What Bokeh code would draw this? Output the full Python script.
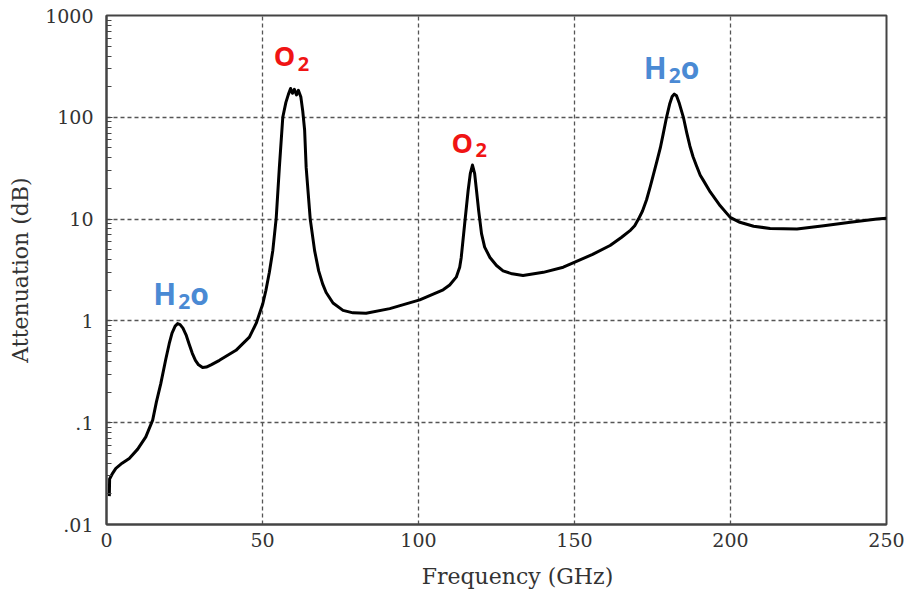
from bokeh.plotting import figure
from bokeh.models import Range1d, FixedTicker, Label
from bokeh.embed import file_html
from bokeh.resources import INLINE

# ---- data ----
freq_ghz = [0.9, 1.0, 2.0, 3.0, 5.0, 7.3, 10.0, 12.6, 14.8, 16.0, 17.4, 19.0, 20.1, 21.0,
            22.0, 22.8, 23.6, 24.5, 25.5, 26.5, 27.5, 28.5, 29.5, 30.8, 32.0, 33.5, 36.2,
            41.5, 45.8, 48.0, 50.1, 51.1, 52.2, 53.3, 54.4, 55.4, 56.5, 57.5, 58.3, 59.0,
            59.6, 60.2, 60.9, 61.5, 62.3, 62.9, 63.5, 64.0, 65.3, 66.7, 68.0, 69.3, 70.4,
            72.6, 75.8, 79.0, 83.2, 90.8, 100.4, 107.9, 110.0, 112.1, 113.2, 113.7, 114.8,
            115.9, 116.6, 117.3, 118.0, 118.6, 119.3, 120.2, 121.2, 122.9, 125.0, 127.1,
            130.0, 133.5, 140.0, 146.4, 150.1, 155.8, 161.4, 165.0, 168.0, 169.3, 170.5,
            171.8, 173.1, 174.3, 175.5, 176.4, 177.5, 178.4, 179.5, 180.5, 181.3, 182.0,
            182.7, 183.5, 184.9, 186.0, 187.0, 188.0, 189.0, 190.3, 191.3, 193.5, 196.7,
            199.9, 203.0, 207.4, 212.7, 221.3, 229.9, 238.4, 247.0, 250.0]
atten_db = [0.019, 0.028, 0.032, 0.0356, 0.040, 0.0446, 0.055, 0.0726, 0.106, 0.16, 0.242,
            0.42, 0.597, 0.76, 0.89, 0.94, 0.92, 0.85, 0.73, 0.59, 0.48, 0.41, 0.37, 0.348,
            0.352, 0.37, 0.41, 0.514, 0.693, 0.95, 1.475, 2.0, 3.0, 4.9, 10.3, 32, 100, 140,
            168, 192, 172, 188, 166, 184, 158, 115, 75, 32, 10, 4.9, 3.1, 2.3, 1.9, 1.5,
            1.27, 1.2, 1.19, 1.32, 1.61, 2.02, 2.25, 2.69, 3.37, 4.2, 9.0, 19, 28, 34, 28,
            19, 12, 7.2, 5.3, 4.2, 3.5, 3.1, 2.9, 2.79, 3.0, 3.37, 3.77, 4.5, 5.5, 6.6, 7.8,
            8.6, 10.0, 12.0, 15.5, 21, 29, 37, 50, 68, 100, 135, 160, 169, 163, 140, 100,
            70, 52, 41, 34, 27, 24, 18.5, 13.5, 10.4, 9.3, 8.5, 8.1, 8.0, 8.6, 9.3,
            10.0, 10.2]

x_ticks = [0, 50, 100, 150, 200, 250]
y_ticks = [0.01, 0.1, 1, 10, 100, 1000]
y_tick_labels = [".01", ".1", "1", "10", "100", "1000"]
y_minor = [m * 10.0 ** k for k in range(-2, 3) for m in range(2, 10)]

x_title = "Frequency (GHz)"
y_title = "Attenuation (dB)"

SERIF = "DejaVu Serif"
SANS = "Open Sans"
RED = "#F01414"
BLUE = "#4A8AD4"
GRID = "#555555"
AX = "#444444"
TXT = "#333333"

p = figure(width=907, height=597, x_range=Range1d(0, 250), y_range=Range1d(0.01, 1000),
           y_axis_type="log", output_backend="svg", toolbar_location=None,
           min_border_left=106, min_border_right=21, min_border_top=15, min_border_bottom=73)

p.line(freq_ghz, atten_db, line_color="black", line_width=3, line_join="round")

p.xaxis.ticker = FixedTicker(ticks=x_ticks)
p.yaxis.ticker = FixedTicker(ticks=y_ticks, minor_ticks=y_minor)
p.yaxis.major_label_overrides = {t: s for t, s in zip(y_ticks, y_tick_labels)}

for ax in (p.xaxis, p.yaxis):
    ax.axis_line_color = AX
    ax.axis_line_width = 2
    ax.major_label_text_font = SERIF
    ax.major_label_text_font_size = "19px"
    ax.major_label_text_color = TXT
    ax.major_tick_line_color = AX
    ax.minor_tick_line_color = AX
    ax.axis_label_text_font = SERIF
    ax.axis_label_text_font_size = "22px"
    ax.axis_label_text_font_style = "normal"
    ax.axis_label_text_color = TXT

# the reference title sits a little right of the frame centre
p.xaxis.axis_label = "\u00a0" * 6 + x_title
p.yaxis.axis_label = y_title

p.xaxis.major_tick_in = 0
p.xaxis.major_tick_out = 0
p.xaxis.minor_tick_in = 0
p.xaxis.minor_tick_out = 0
p.xaxis.major_label_standoff = 8
p.xaxis.axis_label_standoff = 14
p.yaxis.major_tick_in = 6
p.yaxis.major_tick_out = 0
p.yaxis.minor_tick_in = 5
p.yaxis.minor_tick_out = 0
p.yaxis.major_label_standoff = 13
p.yaxis.axis_label_standoff = 9

p.outline_line_color = AX
p.outline_line_width = 2
p.outline_line_alpha = 1

for g in (p.xgrid, p.ygrid):
    g.grid_line_color = GRID
    g.grid_line_dash = "4 3"
    g.grid_line_width = 1.3
    g.grid_line_alpha = 1

PX_PER_GHZ = 3.12
PX_PER_DEC = 101.8


def shift(x, y, dx_px, dy_px):
    return x + dx_px / PX_PER_GHZ, y * 10 ** (dy_px / PX_PER_DEC)


def chem(x, y, parts, color):
    for text, size, dx, dy in parts:
        lx, ly = shift(x, y, dx, dy)
        p.add_layout(Label(x=lx, y=ly, text=text, text_color=color, text_font=SANS,
                           text_font_style="bold", text_font_size=size,
                           text_align="left", text_baseline="alphabetic"))


o2 = [("O", "27px", 0, 0), ("2", "20px", 24, -8)]
h2o = [("H", "30px", 0, 0), ("2", "21px", 25, -8), ("o", "30px", 37, 0)]
chem(53.6, 402, o2, RED)
chem(110.6, 57, o2, RED)
chem(15.0, 1.86, h2o, BLUE)
chem(172.2, 311, h2o, BLUE)

open("out.html", "w").write(file_html(p, INLINE))
